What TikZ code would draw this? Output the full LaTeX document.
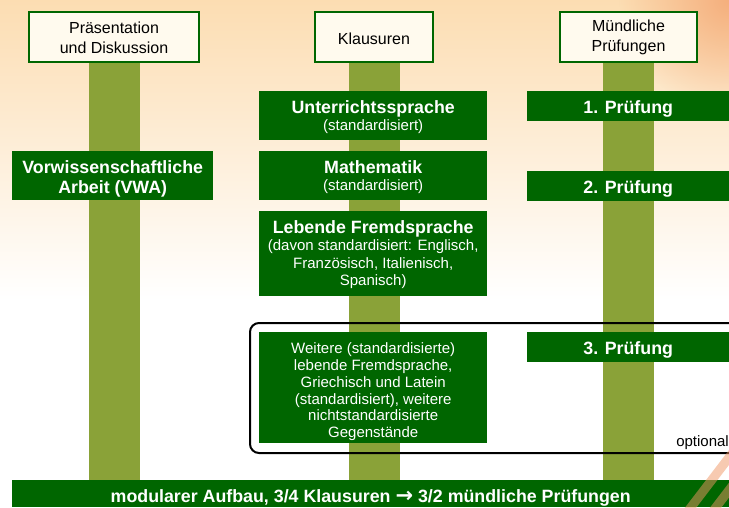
\documentclass[tikz,border=0pt]{standalone}
\usepackage{fontspec}
\setmainfont{Liberation Sans}
\newfontfamily\pfeilfont{DejaVu Sans}
\usetikzlibrary{positioning,fadings}

\definecolor{dunkelgruen}{RGB}{0,102,0}
\definecolor{oliv}{RGB}{138,162,56}
\definecolor{pfirsich}{RGB}{252,221,178}
\definecolor{creme}{RGB}{255,250,238}
\definecolor{gluehen}{RGB}{245,175,125}
\definecolor{streifen}{RGB}{240,150,100}

\tikzfading[name=gluehfade, inner color=transparent!0, outer color=transparent!100]

\newcommand{\gross}{\fontsize{17.8}{19.5}\selectfont\bfseries}
\newcommand{\klein}{\fontsize{15}{17.5}\selectfont}
\newcommand{\hoch}[1]{\rule{0pt}{#1}}

\tikzset{
  kopf/.style={draw=dunkelgruen, line width=2pt, fill=creme, inner sep=0pt,
    align=center, anchor=north west, minimum width=170pt, minimum height=50pt,
    font=\fontsize{16}{20}\selectfont, execute at begin node={\rule{0pt}{15pt}}},
  fach/.style={fill=dunkelgruen, text=white, inner sep=0pt, align=center,
    anchor=north west, font=\klein, execute at begin node={\rule{0pt}{17.5pt}}},
  balken/.style={fill=oliv},
}

\begin{document}
\begin{tikzpicture}[x=1pt,y=-1pt]
      \useasboundingbox (0,0) rectangle (729,507);
      % hintergrund
      \shade[top color=pfirsich, bottom color=white] (0,0) rectangle (729,300);
      \fill[white] (0,300) rectangle (729,507);
      \fill[gluehen, path fading=gluehfade] (729,0) circle (110);

      % kopfzeile
      \node[kopf] (praes) at (28,11) {\hoch{13pt}Präsentation\\und Diskussion};
      \node[kopf, minimum width=118pt] (klaus) at (314,11) {Klausuren};
      \node[kopf, minimum width=137pt] (muend) at (559,11) {\hoch{13pt}Mündliche\\Prüfungen};

      % basis
      \node[fach, font=\gross, minimum width=717pt, minimum height=27pt,
        execute at begin node={\rule{0pt}{21pt}}] (basis) at (12,480)
        {modularer Aufbau, 3/4 Klausuren {\pfeilfont\fontsize{21}{21}\selectfont →} 3/2 mündliche Prüfungen};

      % balken
      \foreach \k in {praes, klaus, muend}
      \fill[balken] ([xshift=-25.5pt]\k.south) rectangle ([xshift=25.5pt]\k.south |- basis.north);

      % links
      \node[fach, font=\gross, minimum width=201pt, minimum height=49pt] (vwa) at (12,151)
        {\hoch{19pt}Vorwissenschaftliche\\Arbeit (VWA)};

      % mitte
      \node[fach, minimum width=228pt, minimum height=49pt] (unt) at (259,91)
        {{\gross\hoch{16pt}Unterrichtssprache}\\(standardisiert)};
      \node[fach, minimum width=228pt, minimum height=49pt] (mathe) at (259,151)
        {{\gross\hoch{16pt}Mathematik}\\(standardisiert)};
      \node[fach, minimum width=228pt, minimum height=85pt] (lebend) at (259,211)
        {{\gross\hoch{15pt}Lebende Fremdsprache}\\(davon standardisiert: Englisch,\\Französisch, Italienisch,\\Spanisch)};
      \node[fach, font=\fontsize{15}{16.7}\selectfont, minimum width=228pt, minimum height=111pt] (weitere) at (259,332)
        {\hoch{19pt}Weitere (standardisierte)\\lebende Fremdsprache,\\Griechisch und Latein\\(standardisiert), weitere\\nichtstandardisierte\\Gegenstände};

      % rechts
      \node[fach, font=\gross, minimum width=202pt, minimum height=30pt] (p1) at (527,91) {1. Prüfung};
      \node[fach, font=\gross, minimum width=202pt, minimum height=30pt] (p2) at (527,171) {2. Prüfung};
      \node[fach, font=\gross, minimum width=202pt, minimum height=30pt] (p3) at (527,332) {3. Prüfung};

      % optional
      \draw[line width=2pt, rounded corners=9pt] (250,323) rectangle (760,453);
      \node[anchor=base east, font=\klein, inner sep=0pt] (opt) at (729,446) {optional};

      % streifen
      \begin{scope}
      \clip (660,440) rectangle (729,507);
      \draw[streifen, line width=9pt, opacity=.5] (685,515) -- (750,430);
      \draw[streifen, line width=9pt, opacity=.5] (710,515) -- (775,430);
      \end{scope}
     \end{tikzpicture}
\end{document}
